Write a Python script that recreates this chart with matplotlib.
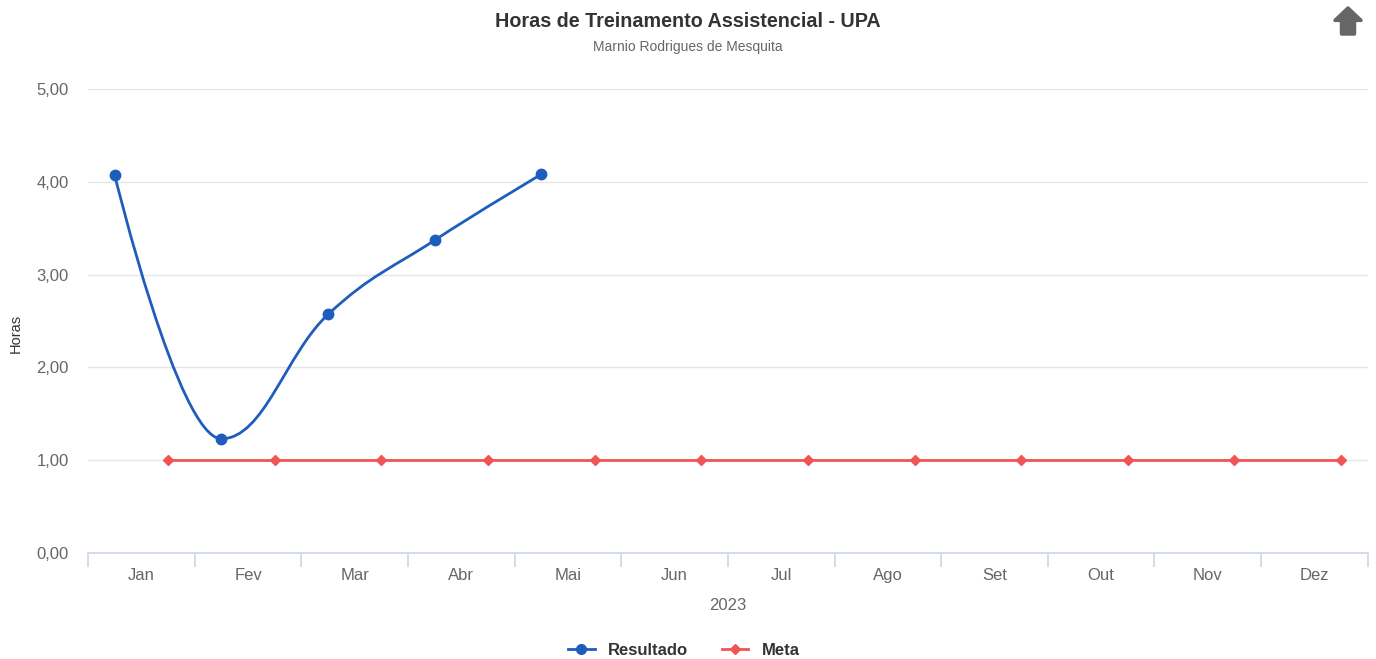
import numpy as np
import matplotlib.pyplot as plt
from matplotlib.path import Path
from matplotlib.patches import PathPatch, Polygon
from matplotlib.lines import Line2D
from matplotlib.ticker import FuncFormatter

plt.rcParams['font.family'] = ['Liberation Sans', 'DejaVu Sans']

meses = ['Jan', 'Fev', 'Mar', 'Abr', 'Mai', 'Jun', 'Jul', 'Ago', 'Set', 'Out', 'Nov', 'Dez']
resultado = [4.07, 1.23, 2.57, 3.37, 4.08]
meta = [1.00] * 12

AZUL = '#1f5dbd'
VERMELHO = '#f25454'


def spline_path(xs, ys, smoothing=1.5):
    # curva no estilo "spline" do Highcharts (beziers cubicas)
    denom = smoothing + 1
    n = len(xs)
    left, right = [], []
    for i in range(n):
        x, y = xs[i], ys[i]
        if i == 0 or i == n - 1:
            left.append((x, y))
            right.append((x, y))
            continue
        lx, ly = xs[i - 1], ys[i - 1]
        nx, ny = xs[i + 1], ys[i + 1]
        lcx = (smoothing * x + lx) / denom
        lcy = (smoothing * y + ly) / denom
        rcx = (smoothing * x + nx) / denom
        rcy = (smoothing * y + ny) / denom
        if rcx != lcx:
            corr = ((rcy - lcy) * (rcx - x)) / (rcx - lcx) + y - rcy
            lcy += corr
            rcy += corr
        if lcy > ly and lcy > y:
            lcy = max(ly, y)
            rcy = 2 * y - lcy
        elif lcy < ly and lcy < y:
            lcy = min(ly, y)
            rcy = 2 * y - lcy
        if rcy > ny and rcy > y:
            rcy = max(ny, y)
            lcy = 2 * y - rcy
        elif rcy < ny and rcy < y:
            rcy = min(ny, y)
            lcy = 2 * y - rcy
        left.append((lcx, lcy))
        right.append((rcx, rcy))
    verts = [(xs[0], ys[0])]
    codes = [Path.MOVETO]
    for i in range(1, n):
        verts += [right[i - 1], left[i], (xs[i], ys[i])]
        codes += [Path.CURVE4] * 3
    return Path(verts, codes)


fig = plt.figure(figsize=(13.76, 6.59), dpi=100)
ax = fig.add_axes([0.064, 0.161, 0.930, 0.704])

pos = np.arange(len(meses))
x_res = pos[:len(resultado)] - 0.25
x_meta = pos + 0.25

ax.add_patch(PathPatch(spline_path(list(x_res), resultado), facecolor='none',
                       edgecolor=AZUL, lw=2, zorder=3))
ax.plot(x_res, resultado, 'o', color=AZUL, ms=7.5, zorder=4)
ax.plot(x_meta, meta, '-D', color=VERMELHO, lw=2, ms=5.5, zorder=3)

ax.set_xlim(-0.5, 11.5)
ax.set_ylim(0, 5)
ax.set_yticks([0, 1, 2, 3, 4, 5])
ax.yaxis.set_major_formatter(FuncFormatter(lambda v, p: f'{v:.2f}'.replace('.', ',')))
ax.grid(axis='y', color='#e6e6e6', lw=1)
ax.set_axisbelow(True)
for s in ['top', 'right', 'left']:
    ax.spines[s].set_visible(False)
ax.spines['bottom'].set_color('#ccd6eb')
ax.spines['bottom'].set_linewidth(1.2)

ax.set_xticks(pos)
ax.set_xticklabels(meses)
ax.set_xticks(np.arange(-0.5, 12, 1), minor=True)
ax.tick_params(axis='x', which='major', length=0, pad=11, labelsize=12, labelcolor='#666666')
ax.tick_params(axis='x', which='minor', length=10, color='#ccd6eb', width=1.2)
ax.tick_params(axis='y', length=0, pad=14, labelsize=12, labelcolor='#666666')

ax.set_xlabel('2023', fontsize=12, color='#666666', labelpad=11)
fig.text(16 / 1376, 1 - 333 / 659, 'Horas', rotation=90, ha='center', va='center',
         fontsize=10.5, color='#333333')

fig.text(0.5, 0.968, 'Horas de Treinamento Assistencial - UPA', ha='center', va='center',
         fontsize=14.2, fontweight='bold', color='#333333')
fig.text(0.5, 0.929, 'Marnio Rodrigues de Mesquita', ha='center', va='center',
         fontsize=10, color='#666666')

# icone do menu (seta)
cx, cy = 1348 / 1376, 1 - 21 / 659
w, h = 13 / 1376, 13 / 659
seta = [(cx, cy + h), (cx + w, cy + 0.05 * h), (cx + 0.5 * w, cy + 0.05 * h), (cx + 0.5 * w, cy - h),
        (cx - 0.5 * w, cy - h), (cx - 0.5 * w, cy + 0.05 * h), (cx - w, cy + 0.05 * h)]
fig.patches.append(Polygon(seta, closed=True, transform=fig.transFigure, facecolor='#666666',
                           edgecolor='#666666', lw=2.5, joinstyle='round'))

handles = [Line2D([], [], color=AZUL, marker='o', lw=2, ms=7),
           Line2D([], [], color=VERMELHO, marker='D', lw=2, ms=5)]
fig.legend(handles, ['Resultado', 'Meta'], loc='center', bbox_to_anchor=(0.497, 0.013),
           ncol=2, frameon=False, handlelength=1.6, columnspacing=2,
           prop={'weight': 'bold', 'size': 12}, labelcolor='#333333')

fig.savefig('out.png', dpi=100)
